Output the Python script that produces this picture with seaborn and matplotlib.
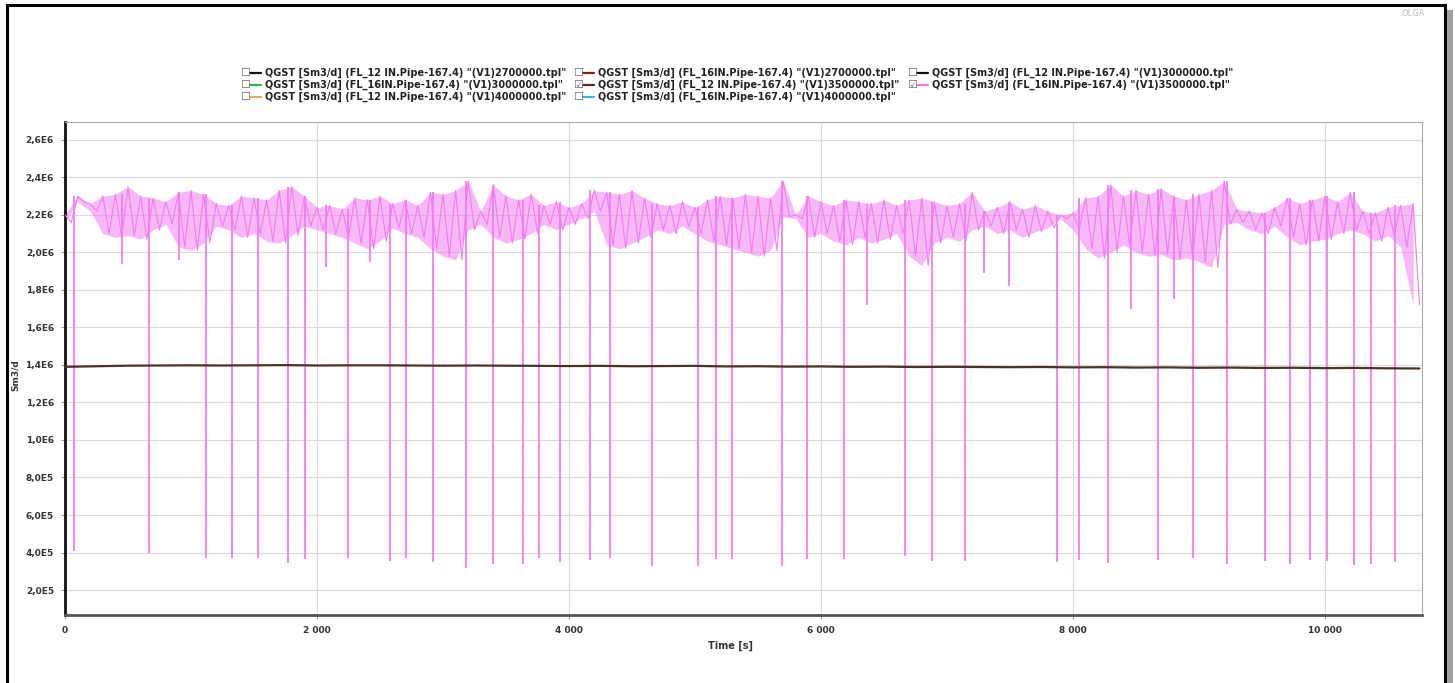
import numpy as np
import pandas as pd
import matplotlib
matplotlib.use("Agg")
import matplotlib.pyplot as plt
import seaborn as sns
from matplotlib.lines import Line2D
from matplotlib.patches import Rectangle

# ---------------- data ----------------
# pink series QGST FL_16IN 3500000 : upper / lower edge of the noisy band (MSm3/d)
band_step = 100  # s
band_hi = [2.20, 2.30, 2.26, 2.30, 2.31, 2.35, 2.30, 2.29, 2.27, 2.32,
           2.33, 2.31, 2.26, 2.25, 2.30, 2.29, 2.28, 2.33, 2.35, 2.30,
           2.24, 2.25, 2.23, 2.29, 2.28, 2.30, 2.26, 2.28, 2.25, 2.32,
           2.31, 2.33, 2.38, 2.22, 2.36, 2.30, 2.28, 2.31, 2.25, 2.27,
           2.24, 2.26, 2.33, 2.32, 2.31, 2.33, 2.29, 2.26, 2.25, 2.27,
           2.24, 2.28, 2.30, 2.29, 2.31, 2.30, 2.29, 2.38, 2.20, 2.30,
           2.27, 2.25, 2.28, 2.27, 2.26, 2.28, 2.25, 2.28, 2.29, 2.27,
           2.25, 2.26, 2.32, 2.22, 2.24, 2.27, 2.23, 2.25, 2.22, 2.20,
           2.21, 2.29, 2.30, 2.36, 2.30, 2.33, 2.31, 2.34, 2.30, 2.28,
           2.31, 2.33, 2.38, 2.23, 2.22, 2.21, 2.24, 2.29, 2.26, 2.28,
           2.30, 2.27, 2.32, 2.22, 2.21, 2.24, 2.25, 2.26]
band_lo = [2.16, 2.27, 2.22, 2.10, 2.08, 2.09, 2.07, 2.12, 2.15, 2.03,
           2.01, 2.05, 2.14, 2.12, 2.08, 2.10, 2.06, 2.05, 2.09, 2.14,
           2.12, 2.10, 2.08, 2.05, 2.02, 2.06, 2.13, 2.10, 2.08, 2.02,
           1.98, 1.96, 2.12, 2.15, 2.08, 2.05, 2.07, 2.10, 2.15, 2.12,
           2.15, 2.18, 2.22, 2.04, 2.02, 2.05, 2.08, 2.12, 2.10, 2.14,
           2.10, 2.06, 2.04, 2.02, 2.00, 1.98, 2.01, 2.19, 2.18, 2.08,
           2.10, 2.06, 2.04, 2.08, 2.05, 2.07, 2.10, 1.98, 1.93, 2.05,
           2.08, 2.06, 2.12, 2.14, 2.10, 2.12, 2.08, 2.11, 2.13, 2.18,
           2.12, 2.02, 1.97, 2.00, 2.04, 2.00, 1.98, 1.99, 1.96, 1.97,
           1.95, 1.92, 2.15, 2.16, 2.12, 2.10, 2.14, 2.08, 2.04, 2.06,
           2.07, 2.10, 2.12, 2.10, 2.06, 2.09, 2.03, 1.72]

# deep drops of the pink series (time s, value MSm3/d)
dip_t = [75, 670, 1123, 1323, 1532, 1769, 1906, 2248, 2579, 2709,
         2921, 3180, 3400, 3637, 3760, 3930, 4164, 4325, 4660, 5023,
         5163, 5292, 5687, 5886, 6183, 6668, 6881, 7146, 7876, 8051,
         8281, 8676, 8952, 9221, 9521, 9720, 9881, 10017, 10229, 10366,
         10558,
         449, 903, 2073, 2422, 6368, 7293, 7492, 8463, 8805]
dip_v = [0.409, 0.400, 0.373, 0.373, 0.373, 0.343, 0.364, 0.373, 0.356, 0.373,
         0.347, 0.320, 0.338, 0.338, 0.373, 0.350, 0.360, 0.373, 0.329, 0.329,
         0.364, 0.364, 0.329, 0.368, 0.368, 0.379, 0.356, 0.356, 0.350, 0.360,
         0.343, 0.360, 0.373, 0.338, 0.356, 0.338, 0.360, 0.356, 0.333, 0.338,
         0.347,
         1.94, 1.96, 1.92, 1.95, 1.72, 1.89, 1.82, 1.70, 1.75]

# brown series QGST FL_12 IN 3500000 (every 250 s)
brown_step = 250
brown_v = [1.390, 1.393, 1.396, 1.397, 1.398, 1.397, 1.398, 1.399, 1.397, 1.398,
           1.398, 1.397, 1.396, 1.397, 1.396, 1.395, 1.394, 1.395, 1.393, 1.394,
           1.395, 1.392, 1.393, 1.391, 1.392, 1.390, 1.391, 1.389, 1.390, 1.389,
           1.388, 1.389, 1.387, 1.388, 1.386, 1.387, 1.385, 1.386, 1.384, 1.385,
           1.383, 1.384, 1.382, 1.381]

legend_labels = [
    'QGST [Sm3/d] (FL_12 IN.Pipe-167.4) "(V1)2700000.tpl"',
    'QGST [Sm3/d] (FL_16IN.Pipe-167.4) "(V1)2700000.tpl"',
    'QGST [Sm3/d] (FL_12 IN.Pipe-167.4) "(V1)3000000.tpl"',
    'QGST [Sm3/d] (FL_16IN.Pipe-167.4) "(V1)3000000.tpl"',
    'QGST [Sm3/d] (FL_12 IN.Pipe-167.4) "(V1)3500000.tpl"',
    'QGST [Sm3/d] (FL_16IN.Pipe-167.4) "(V1)3500000.tpl"',
    'QGST [Sm3/d] (FL_12 IN.Pipe-167.4) "(V1)4000000.tpl"',
    'QGST [Sm3/d] (FL_16IN.Pipe-167.4) "(V1)4000000.tpl"',
]
legend_colors = ['#111111', '#8b1c1c', '#111111', '#3cb043',
                 '#5a2a22', '#ef7fef', '#e8b060', '#3fb0e0']
legend_checked = [False, False, False, False, True, True, False, False]

x_ticks = [0, 2000, 4000, 6000, 8000, 10000]
y_ticks = [2e5, 4e5, 6e5, 8e5, 1e6, 1.2e6, 1.4e6, 1.6e6, 1.8e6, 2e6, 2.2e6, 2.4e6, 2.6e6]

PINK = legend_colors[5]
BROWN = '#4a3323'

# ---------------- build frames ----------------
band_t = np.arange(len(band_hi)) * band_step
t_all = np.concatenate([band_t, band_t + band_step / 2])
v_all = np.concatenate([band_hi, band_lo]) * 1e6
order = np.argsort(t_all)
pink_df = pd.DataFrame({"t": t_all[order], "v": v_all[order]})
dip_idx = np.clip(np.rint(np.array(dip_t) / band_step).astype(int), 0, len(band_hi) - 1)
dip_top = np.array(band_hi)[dip_idx] * 1e6
brown_df = pd.DataFrame({"t": np.arange(len(brown_v)) * brown_step,
                         "v": np.array(brown_v) * 1e6})

# ---------------- figure ----------------
sns.set_theme(style="white")
plt.rcParams['font.family'] = ['DejaVu Sans']

W, H = 1455, 683
fig = plt.figure(figsize=(W / 100, H / 100), dpi=100)
fig.patch.set_facecolor('white')
ax = fig.add_axes([65 / W, 68 / H, 1357 / W, 493 / H])

ax.fill_between(band_t, np.array(band_lo) * 1e6, np.array(band_hi) * 1e6,
                color=PINK, alpha=0.55, lw=0, zorder=2)
sns.lineplot(data=pink_df, x="t", y="v", color=PINK, lw=0.8,
             estimator=None, sort=False, ax=ax, zorder=3)
ax.vlines(dip_t, np.array(dip_v) * 1e6, dip_top, color=PINK, lw=1.3, zorder=3)
sns.lineplot(data=brown_df, x="t", y="v", color=BROWN, lw=1.6,
             estimator=None, ax=ax, zorder=4)

ax.set_xlim(0, 10770)
ax.set_ylim(6.7e4, 2.695e6)


def fmt_y(v):
    e = int(np.floor(np.log10(v)))
    m = v / 10 ** e
    return f"{m:.1f}".replace('.', ',') + f"E{e}"


ax.set_xticks(x_ticks, labels=[f"{v:,}".replace(',', ' ') for v in x_ticks],
              fontweight='bold')
ax.set_yticks(y_ticks, labels=[fmt_y(v) for v in y_ticks], fontweight='bold')
ax.tick_params(axis='both', which='both', length=3, width=0.8, color='#999999',
               labelsize=6.5, labelcolor='#333333', pad=5, direction='out',
               bottom=True, left=True)
ax.grid(True, color='#dadada', lw=0.8)
ax.set_axisbelow(True)

for s in ['top', 'right']:
    ax.spines[s].set_color('#aaaaaa')
    ax.spines[s].set_linewidth(0.8)
ax.spines['left'].set_color('#111111')
ax.spines['left'].set_linewidth(2)
ax.spines['bottom'].set_color('#555555')
ax.spines['bottom'].set_linewidth(2)

ax.set_xlabel("Time [s]", fontsize=7, fontweight='bold', color='#333333')
ax.set_ylabel("Sm3/d", fontsize=6.5, fontweight='bold', color='#333333')
ax.xaxis.set_label_coords((730 - 65) / 1357, (615 - 641) / 493)
ax.yaxis.set_label_coords((20 - 65) / 1357, (615 - 375) / 493)

# ---------------- legend (checkbox + line + text, 3 columns) ----------------
col_x = [240, 573, 907]
row_y = [73, 85, 97]
for i, (lab, col, chk) in enumerate(zip(legend_labels, legend_colors, legend_checked)):
    r, c = divmod(i, 3)
    x0, y0 = col_x[c], row_y[r]
    fig.text(x0 / W, 1 - y0 / H, '☑' if chk else '☐', fontsize=8,
             color='#666666', ha='left', va='center')
    fig.add_artist(Line2D([(x0 + 10) / W, (x0 + 21) / W], [1 - y0 / H, 1 - y0 / H],
                          color=col, lw=1.6, transform=fig.transFigure))
    fig.text((x0 + 25) / W, 1 - y0 / H, lab, fontsize=7, fontweight='bold',
             color='#222222', ha='left', va='center')

fig.text(1413 / W, 1 - 14 / H, "OLGA", fontsize=6, color='#c0c0c0',
         ha='center', va='center')

# outer screenshot frame
fig.add_artist(Rectangle((7 / W, -0.01), (1445 - 7) / W, 1 - 5 / H + 0.01,
                         transform=fig.transFigure, fill=False,
                         ec='black', lw=2.2))
fig.add_artist(Rectangle((1447 / W, 0), 6 / W, 1 - 10 / H,
                         transform=fig.transFigure, fc='#a0a0a0', ec='none'))

fig.savefig("out.png", dpi=100)
